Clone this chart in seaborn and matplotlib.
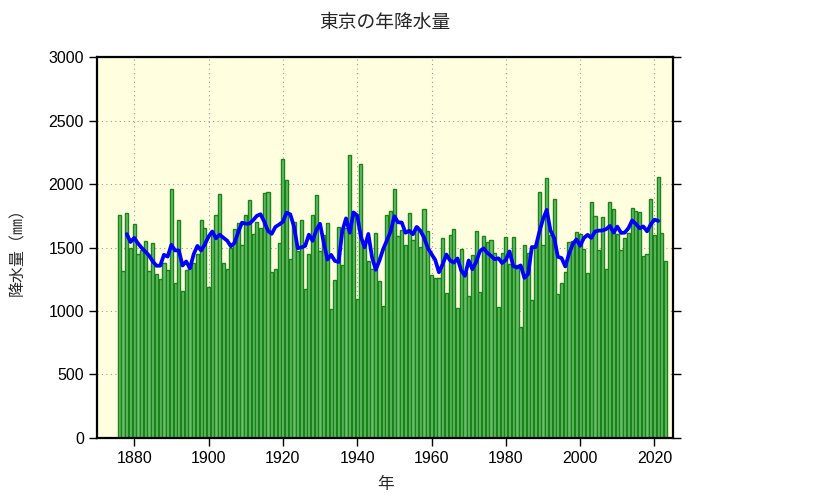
import matplotlib
matplotlib.use("Agg")
import matplotlib.pyplot as plt
import seaborn as sns
import pandas as pd

years = list(range(1876, 2024))
rain = [
    1758, 1318, 1768, 1495, 1689, 1447, 1479, 1555, 1318, 1534,   # 1876-1885
    1295, 1253, 1381, 1321, 1963, 1224, 1718, 1160, 1321, 1370,   # 1886-1895
    1380, 1450, 1713, 1650, 1189, 1620, 1755, 1918, 1381, 1331,   # 1896-1905
    1500, 1642, 1695, 1516, 1753, 1871, 1603, 1697, 1650, 1926,   # 1906-1915
    1934, 1308, 1334, 1537, 2197, 2029, 1413, 1697, 1470, 1716,   # 1916-1925
    1176, 1447, 1753, 1913, 1476, 1600, 1692, 1013, 1247, 1658,   # 1926-1935
    1361, 1650, 2232, 1746, 1093, 2161, 1531, 1390, 1334, 1618,   # 1936-1945
    1239, 1040, 1759, 1785, 1957, 1590, 1641, 1521, 1773, 1556,   # 1946-1955
    1670, 1502, 1807, 1628, 1282, 1263, 1261, 1577, 1143, 1598,   # 1956-1965
    1644, 1027, 1492, 1308, 1121, 1439, 1629, 1150, 1587, 1542,   # 1966-1975
    1560, 1455, 1029, 1453, 1579, 1374, 1579, 1360, 876, 1521,    # 1976-1985
    1458, 1089, 1510, 1939, 1518, 2045, 1600, 1879, 1131, 1221,   # 1986-1995
    1305, 1547, 1550, 1624, 1605, 1492, 1297, 1855, 1750, 1484,   # 1996-2005
    1742, 1334, 1861, 1803, 1610, 1479, 1571, 1613, 1813, 1787,   # 2006-2015
    1782, 1431, 1447, 1882, 1595, 2055, 1618, 1397,               # 2016-2023
]
x_ticks = [1880, 1900, 1920, 1940, 1960, 1980, 2000, 2020]
y_ticks = [0, 500, 1000, 1500, 2000, 2500, 3000]

df = pd.DataFrame({"year": years, "rain": rain})
# 5-year centred moving average
df["ma5"] = df["rain"].rolling(5, center=True).mean()

sns.set_theme(style="ticks")
plt.rcParams["font.family"] = ["Liberation Sans", "Noto Sans CJK JP", "DejaVu Sans"]

fig = plt.figure(figsize=(8.33, 4.98), dpi=100)
ax = fig.add_axes([0.1165, 0.1205, 0.6915, 0.765])
ax.set_facecolor("#ffffe0")

sns.barplot(
    data=df, x="year", y="rain",
    native_scale=True,
    color="#6cbd6c",
    edgecolor="#178417",
    linewidth=1.0,
    width=0.85,
    saturation=1,
    errorbar=None,
    ax=ax,
    zorder=2
)

sns.lineplot(
    data=df, x="year", y="ma5",
    color="#0000ff",
    linewidth=2.7,
    ax=ax,
    zorder=3
)

ax.set_xlim(1870, 2025)
ax.set_ylim(0, 3000)
ax.set_xticks(x_ticks)
ax.set_yticks(y_ticks)

ax.grid(True, linestyle=(0, (1, 3)), color="#9a9a9a", linewidth=0.8)
ax.set_axisbelow(True)

for s in ax.spines.values():
    s.set_linewidth(1.6)
    s.set_color("black")

ax.tick_params(axis="both", direction="out", length=6, width=1, labelsize=11.5,
               colors="black")
ax.tick_params(axis="y", right=True, labelright=False)

ax.set_title("東京の年降水量", fontsize=13.5, pad=21)
ax.set_xlabel("年", fontsize=12, labelpad=8)
ax.set_ylabel("降水量（㎜）", fontsize=11.5, labelpad=17)

plt.savefig("out.png", dpi=100)
